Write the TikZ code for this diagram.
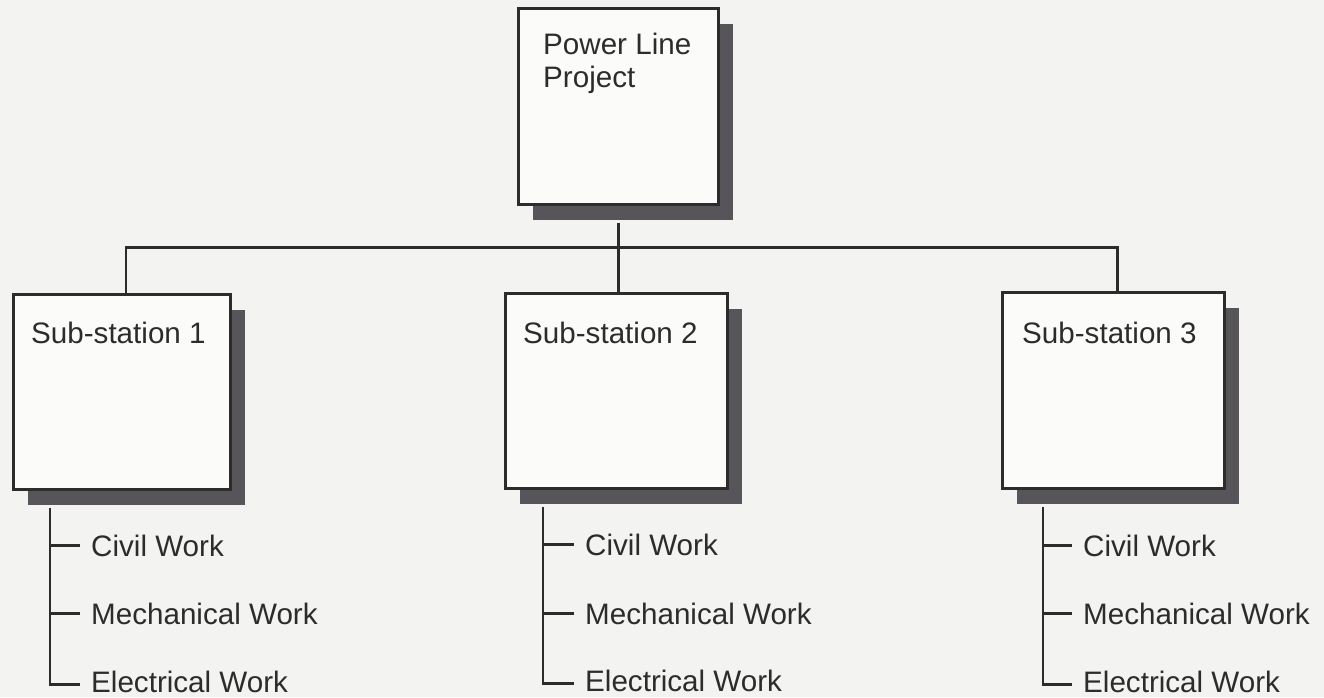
\documentclass[tikz,border=0pt]{standalone}
\usepackage{fontspec}
\setmainfont{Liberation Sans}
\usetikzlibrary{calc,shadows}
\definecolor{ink}{HTML}{2C2C2C}
\definecolor{shade}{HTML}{58555A}
\definecolor{paper}{HTML}{F3F3F1}
\definecolor{boxfill}{HTML}{FBFBFA}
\begin{document}
\begin{tikzpicture}[x=1pt,y=-1pt,
  wbsbox/.style={draw=ink, line width=2.8pt, fill=boxfill, anchor=north west, inner sep=0pt,
    drop shadow={shadow xshift=15pt, shadow yshift=-16pt, fill=shade, opacity=1}},
  lbl/.style={text=ink, font=\fontsize{29.6}{33}\selectfont, inner sep=0pt},
  leaf/.style={lbl, anchor=base west, inner xsep=11pt, inner ysep=0pt},
  conn/.style={draw=ink, line width=2.8pt}]
\fill[paper] (0,0) rectangle (1324,697);
\useasboundingbox (0,0) rectangle (1324,697);

% boxes
\node[wbsbox, minimum width=200pt, minimum height=196pt] (top) at (517,7) {};
\node[wbsbox, minimum width=217pt, minimum height=195pt] (s1) at (12,293) {};
\node[wbsbox, minimum width=222pt, minimum height=195pt] (s2) at (504,292) {};
\node[wbsbox, minimum width=222pt, minimum height=196pt] (s3) at (1001,291) {};

% box texts
\node[lbl, anchor=north west, align=left] (ttop) at ($(top.north west)+(26,26)$) {Power Line\\Project};
\node[lbl, anchor=base west] (t1) at ($(s1.north west)+(19,50)$) {Sub-station 1};
\node[lbl, anchor=base west] (t2) at ($(s2.north west)+(19,51)$) {Sub-station 2};
\node[lbl, anchor=base west] (t3) at ($(s3.north west)+(21,52)$) {Sub-station 3};

% top-level connectors
\coordinate (j) at ($(top.south)+(0,42)$);
\draw[conn] ($(top.south)+(0,17)$) -- (j);
\draw[conn] ($(s1.north)+(4,0)$) |- (j) -| ($(s3.north)+(4,0)$);
\draw[conn] (j) -- (j |- s2.north);

% leaves
\node[leaf] (s1c) at (80,556) {Civil Work};
\node[leaf] (s1m) at (80,624) {Mechanical Work};
\node[leaf] (s1e) at (80,692) {Electrical Work};
\node[leaf] (s2c) at (574,555) {Civil Work};
\node[leaf] (s2m) at (574,624) {Mechanical Work};
\node[leaf] (s2e) at (574,691) {Electrical Work};
\node[leaf] (s3c) at (1072,556) {Civil Work};
\node[leaf] (s3m) at (1072,624) {Mechanical Work};
\node[leaf] (s3e) at (1072,692) {Electrical Work};

% spines
\coordinate (p1) at ($(s1.south west)+(38,17)$);
\coordinate (p2) at ($(s2.south west)+(39,17)$);
\coordinate (p3) at ($(s3.south west)+(42,17)$);
\draw[conn] (p1) |- ([yshift=-3pt]s1e.west);
\draw[conn] (p1 |- s1c.west) -- (s1c.west);
\draw[conn] (p1 |- s1m.west) -- (s1m.west);
\draw[conn] (p2) |- ([yshift=-3pt]s2e.west);
\draw[conn] (p2 |- s2c.west) -- (s2c.west);
\draw[conn] (p2 |- s2m.west) -- (s2m.west);
\draw[conn] (p3) |- ([yshift=-3pt]s3e.west);
\draw[conn] (p3 |- s3c.west) -- (s3c.west);
\draw[conn] (p3 |- s3m.west) -- (s3m.west);
\end{tikzpicture}
\end{document}
